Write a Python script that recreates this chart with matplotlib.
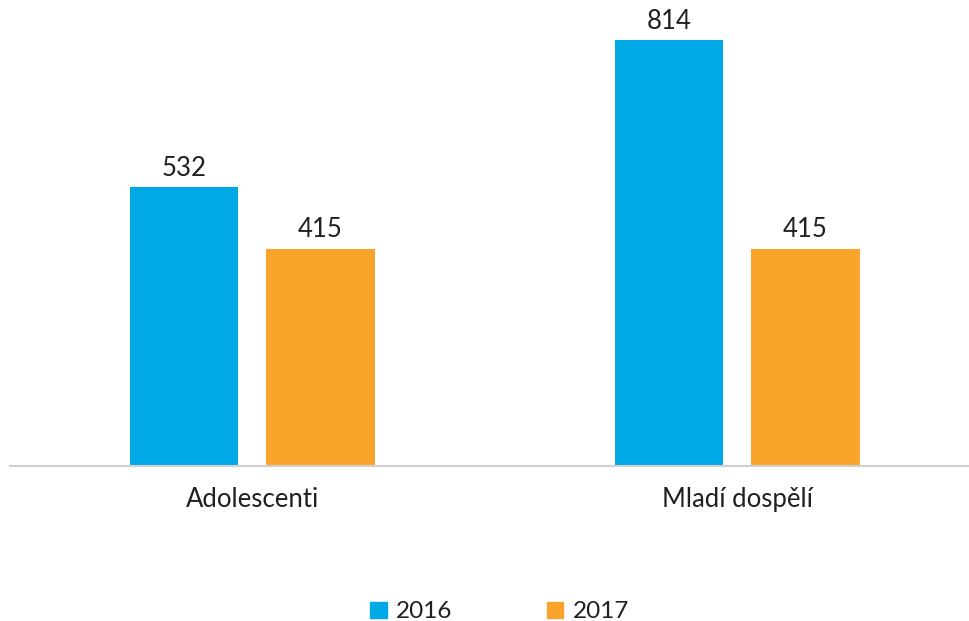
import matplotlib
matplotlib.use("Agg")
import matplotlib.pyplot as plt
from matplotlib.patches import Patch
import numpy as np

categories = ["Adolescenti", "Mladí dospělí"]
series_names = ["2016", "2017"]
values_2016 = [532, 814]
values_2017 = [415, 415]

colors = ["#00A9E6", "#F9A52B"]
text_color = "#231F20"

plt.rcParams['font.family'] = ['Lato', 'DejaVu Sans']

fig = plt.figure(figsize=(9.70, 6.21), dpi=100)
ax = fig.add_axes([10/970, (621-466)/621, 960/970, 466/621])

x = np.arange(len(categories))
w = 0.223
off = 0.141
b1 = ax.bar(x - off, values_2016, w, color=colors[0], label=series_names[0])
b2 = ax.bar(x + off, values_2017, w, color=colors[1], label=series_names[1])

for bars in (b1, b2):
    for r in bars:
        ax.text(r.get_x() + r.get_width()/2, r.get_height() + 12, f"{int(r.get_height())}",
                ha='center', va='bottom', fontsize=18.5, color=text_color)

ax.set_xlim(-0.499, 1.480)
ax.set_ylim(0, 890)
ax.set_xticks(x)
ax.set_xticklabels(categories, fontsize=18.5, color=text_color)
ax.tick_params(axis='x', length=0, pad=15)
ax.set_yticks([])
for s in ['top', 'right', 'left']:
    ax.spines[s].set_visible(False)
ax.spines['bottom'].set_color('#D0D0D0')
ax.spines['bottom'].set_linewidth(1.5)

handles = [Patch(color=colors[0]), Patch(color=colors[1])]
fig.legend(handles, series_names, loc='center', bbox_to_anchor=(500/970, 1 - 612/621),
           ncol=2, frameon=False, fontsize=17.5, handlelength=0.66, handleheight=0.66,
           handletextpad=0.4, columnspacing=3.9, labelcolor=text_color)

fig.savefig("out.png", dpi=100)
